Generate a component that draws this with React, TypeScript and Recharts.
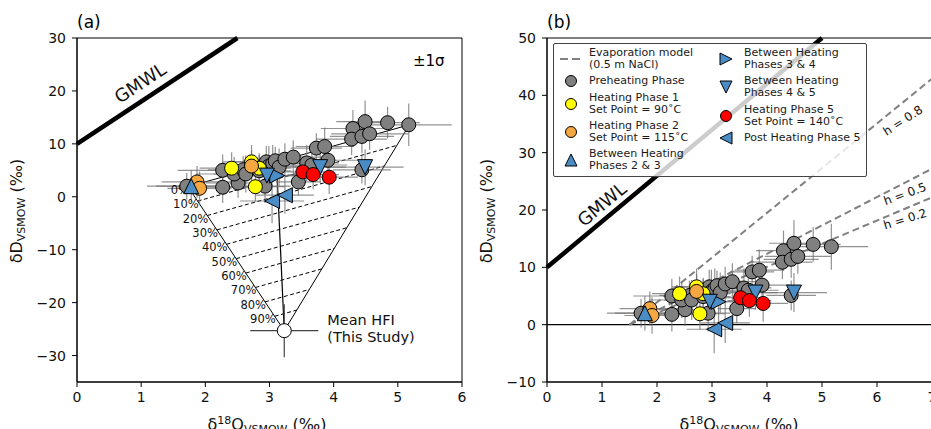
import React from "react";
import {
  ErrorBar,
  ReferenceArea,
  ReferenceLine,
  Scatter,
  ScatterChart,
  XAxis,
  YAxis,
} from "recharts";

// [d18O, dD, ±d18O, ±dD]
type Row = [number, number, number, number];

const preheating: Row[] = [
  [1.71, 2.0, 0.62, 2.5],
  [2.27, 1.8, 0.45, 3.0],
  [2.51, 2.6, 0.5, 2.8],
  [2.27, 5.0, 0.7, 3.0],
  [2.45, 4.3, 0.6, 3.2],
  [2.59, 5.1, 0.55, 2.6],
  [2.63, 4.3, 0.5, 3.5],
  [2.84, 4.9, 0.5, 3.0],
  [2.93, 2.0, 0.4, 3.2],
  [2.95, 6.6, 0.5, 3.0],
  [2.99, 5.8, 0.6, 3.8],
  [3.05, 6.3, 0.45, 3.5],
  [3.09, 6.8, 0.5, 2.6],
  [3.15, 5.6, 0.55, 3.5],
  [3.24, 7.1, 0.4, 3.0],
  [3.37, 7.5, 0.45, 3.2],
  [3.45, 2.8, 0.35, 2.5],
  [3.58, 6.4, 0.5, 3.4],
  [3.66, 6.0, 0.55, 3.0],
  [3.73, 9.2, 0.4, 2.8],
  [3.86, 9.5, 0.45, 3.6],
  [3.91, 6.9, 0.5, 3.2],
  [4.44, 5.1, 0.45, 2.6],
  [4.3, 12.9, 0.5, 3.5],
  [4.28, 10.9, 0.55, 3.0],
  [4.49, 14.2, 0.45, 4.0],
  [4.44, 11.4, 0.5, 3.2],
  [4.56, 11.9, 0.6, 3.0],
  [4.84, 14.0, 0.5, 3.0],
  [5.17, 13.6, 0.67, 4.0],
];
const heating1: Row[] = [
  [2.41, 5.4, 0.5, 3.0],
  [2.72, 6.6, 0.45, 3.2],
  [2.84, 5.4, 0.5, 2.8],
  [2.78, 1.9, 0.45, 2.8],
];
const heating2: Row[] = [
  [1.87, 2.8, 0.55, 3.0],
  [1.91, 1.6, 0.5, 3.2],
  [2.72, 5.8, 0.5, 3.0],
];
const between23: Row[] = [[1.78, 2.0, 0.55, 3.0]];
const between34: Row[] = [[3.12, 4.0, 0.45, 3.5]];
const between45: Row[] = [
  [2.96, 4.0, 0.45, 3.0],
  [3.79, 5.6, 0.4, 3.0],
  [4.49, 5.6, 0.6, 3.4],
];
const heating5: Row[] = [
  [3.52, 4.7, 0.45, 3.0],
  [3.68, 4.2, 0.4, 2.8],
  [3.93, 3.7, 0.45, 3.2],
];
const postHeating5: Row[] = [
  [3.04, -0.8, 0.5, 4.2],
  [3.24, 0.3, 0.45, 3.5],
];
const meanHFI: Row[] = [[3.23, -25.3, 0.53, 5.0]];

// mixing model end members, panel (a)
const mixLow = { x: 1.73, y: 1.9 };
const mixHigh = { x: 5.18, y: 13.6 };
const mixMid = { x: 3.12, y: 3.5 };
const hfi = { x: meanHFI[0][0], y: meanHFI[0][1] };
const mixFractions = [0, 0.1, 0.2, 0.3, 0.4, 0.5, 0.6, 0.7, 0.8, 0.9];

const gmwlA = [{ x: 0, y: 10 }, { x: 2.5, y: 30 }];
const gmwlB = [{ x: 0, y: 10 }, { x: 5, y: 50 }];

const evapH08 = [{ x: 1.5, y: 0 }, { x: 7, y: 42.9 }];
const evapH05 = [{ x: 1.5, y: 0 }, { x: 7, y: 27.2 }];
const evapH02 = [{ x: 1.5, y: 0 }, { x: 7, y: 22.2 }];

const xTicksA = [0, 1, 2, 3, 4, 5, 6];
const yTicksA = [-30, -20, -10, 0, 10, 20, 30];
const xTicksB = [0, 1, 2, 3, 4, 5, 6, 7];
const yTicksB = [-10, 0, 10, 20, 30, 40, 50];

const series = [
  { name: ["Preheating Phase"], rows: preheating, marker: "o", color: "#808080" },
  { name: ["Heating Phase 1", "Set Point = 90˚C"], rows: heating1, marker: "o", color: "#ffff00" },
  { name: ["Heating Phase 2", "Set Point = 115˚C"], rows: heating2, marker: "o", color: "#f5a742" },
  { name: ["Between Heating", "Phases 2 & 3"], rows: between23, marker: "^", color: "#4a8cc6" },
  { name: ["Between Heating", "Phases 3 & 4"], rows: between34, marker: ">", color: "#4a8cc6" },
  { name: ["Between Heating", "Phases 4 & 5"], rows: between45, marker: "v", color: "#4a8cc6" },
  { name: ["Heating Phase 5", "Set Point = 140˚C"], rows: heating5, marker: "o", color: "#ff0000" },
  { name: ["Post Heating Phase 5"], rows: postHeating5, marker: "<", color: "#4a8cc6" },
];

const toPoints = (rows: Row[]) => rows.map(([x, y, ex, ey]) => ({ x, y, ex, ey }));
const lerp = (a: { x: number; y: number }, b: { x: number; y: number }, f: number) => ({
  x: a.x + f * (b.x - a.x),
  y: a.y + f * (b.y - a.y),
});

const mixRows = mixFractions.map((f) => ({
  f,
  left: lerp(mixLow, hfi, f),
  right: lerp(mixHigh, hfi, f),
}));

function markerPath(kind: string, cx: number, cy: number, s: number, fill: string) {
  if (kind === "o") return <circle cx={cx} cy={cy} r={s} fill={fill} stroke="#000" strokeWidth={1} />;
  let pts = "";
  if (kind === "^") pts = `${cx},${cy - s} ${cx - s},${cy + s} ${cx + s},${cy + s}`;
  if (kind === "v") pts = `${cx},${cy + s} ${cx - s},${cy - s} ${cx + s},${cy - s}`;
  if (kind === ">") pts = `${cx + s},${cy} ${cx - s},${cy - s} ${cx - s},${cy + s}`;
  if (kind === "<") pts = `${cx - s},${cy} ${cx + s},${cy - s} ${cx + s},${cy + s}`;
  return <polygon points={pts} fill={fill} stroke="#000" strokeWidth={1} />;
}

const markerShape = (kind: string, fill: string) => (p: any) => {
  if (p.cx == null || p.cy == null) return <g />;
  return markerPath(kind, p.cx, p.cy, kind === "o" ? 7 : 7.5, fill);
};

const blank = () => <g />;

type TextOpts = { size: number; anchor?: "start" | "middle" | "end"; dx?: number; dy?: number; rotate?: number; central?: boolean };
const textShape = (o: TextOpts) => (p: any) => {
  if (p.cx == null || p.cy == null) return <g />;
  const x = p.cx + (o.dx ?? 0);
  const y = p.cy + (o.dy ?? 0);
  const lines: string[] = Array.isArray(p.payload.label) ? p.payload.label : [p.payload.label];
  return (
    <text
      x={x}
      y={y}
      fontSize={o.size}
      textAnchor={o.anchor ?? "start"}
      dominantBaseline={o.central ? "central" : undefined}
      transform={o.rotate ? `rotate(${o.rotate} ${x} ${y})` : undefined}
      fill="#111"
    >
      {lines.map((l, i) => (
        <tspan key={i} x={x} dy={i === 0 ? 0 : 17}>
          {l}
        </tspan>
      ))}
    </text>
  );
};

const minus = (v: number) => String(v).replace("-", "\u2212");
const tickStyle = { fill: "#111", fontSize: 14 };

function dataLayers() {
  const all = series.flatMap((s) => s.rows);
  return [
    <Scatter key="err" data={toPoints(all)} shape={blank} isAnimationActive={false}>
      <ErrorBar dataKey="ex" direction="x" width={0} stroke="#6e6e6e" strokeOpacity={0.75} strokeWidth={1.2} />
      <ErrorBar dataKey="ey" direction="y" width={0} stroke="#6e6e6e" strokeOpacity={0.75} strokeWidth={1.2} />
    </Scatter>,
    ...series.map((s, i) => (
      <Scatter key={"s" + i} data={toPoints(s.rows)} shape={markerShape(s.marker, s.color)} isAnimationActive={false} />
    )),
  ];
}

function axes(xTicks: number[], yTicks: number[]) {
  return [
    <XAxis
      key="x"
      type="number"
      dataKey="x"
      domain={[xTicks[0], xTicks[xTicks.length - 1]]}
      ticks={xTicks}
      allowDataOverflow
      height={30}
      tickSize={5}
      tickMargin={5}
      stroke="#000"
      tick={tickStyle}
    />,
    <YAxis
      key="y"
      type="number"
      dataKey="y"
      domain={[yTicks[0] === -30 ? -35 : yTicks[0], yTicks[yTicks.length - 1]]}
      ticks={yTicks}
      allowDataOverflow
      width={50}
      tickSize={5}
      tickMargin={6}
      stroke="#000"
      tick={tickStyle}
      tickFormatter={minus}
    />,
  ];
}

const margin = { top: 38, right: 8, bottom: 17, left: 27 };

function PanelA() {
  return (
    <ScatterChart width={470} height={429} margin={margin}>
      {axes(xTicksA, yTicksA)}
      <ReferenceLine segment={gmwlA} stroke="#000" strokeWidth={4.5} />
      <ReferenceLine segment={[mixLow, mixHigh]} stroke="#000" strokeWidth={1} />
      <ReferenceLine segment={[mixLow, hfi]} stroke="#000" strokeWidth={1} />
      <ReferenceLine segment={[mixHigh, hfi]} stroke="#000" strokeWidth={1} />
      <ReferenceLine segment={[mixMid, hfi]} stroke="#000" strokeWidth={1.2} />
      {mixRows
        .filter((r) => r.f > 0)
        .map((r) => (
          <ReferenceLine key={r.f} segment={[r.left, r.right]} stroke="#000" strokeWidth={1} strokeDasharray="4 2.5" />
        ))}
      <Scatter
        data={mixRows.map((r) => ({ x: r.left.x, y: r.left.y, label: `${Math.round(r.f * 100)}%` }))}
        shape={textShape({ size: 11.5, anchor: "end", dx: 1, dy: 7 })}
        isAnimationActive={false}
      />
      {dataLayers()}
      <Scatter data={toPoints(meanHFI)} shape={markerShape("o", "#fff")} isAnimationActive={false}>
        <ErrorBar dataKey="ex" direction="x" width={0} stroke="#444" strokeWidth={1.2} />
        <ErrorBar dataKey="ey" direction="y" width={0} stroke="#444" strokeWidth={1.2} />
      </Scatter>
      <Scatter
        data={[{ x: hfi.x, y: hfi.y, label: ["Mean HFI", "(This Study)"] }]}
        shape={textShape({ size: 14.5, dx: 43, dy: -6 })}
        isAnimationActive={false}
      />
      <Scatter
        data={[{ x: 0.98, y: 21.6, label: "GMWL" }]}
        shape={textShape({ size: 18, anchor: "middle", rotate: -33.4, central: true })}
        isAnimationActive={false}
      />
      <ReferenceArea x1={0} x2={6} y1={-35} y2={30} fill="none" stroke="#000" strokeWidth={1} />
    </ScatterChart>
  );
}

function PanelB() {
  return (
    <ScatterChart width={470} height={429} margin={margin}>
      {axes(xTicksB, yTicksB)}
      <ReferenceLine y={0} stroke="#000" strokeWidth={1.2} />
      <ReferenceLine segment={gmwlB} stroke="#000" strokeWidth={4.5} />
      {[evapH08, evapH05, evapH02].map((seg, i) => (
        <ReferenceLine key={i} segment={seg} stroke="#808080" strokeWidth={2} strokeDasharray="7 4" />
      ))}
      {dataLayers()}
      <Scatter
        data={[{ x: 0.99, y: 21.1, label: "GMWL" }]}
        shape={textShape({ size: 18, anchor: "middle", rotate: -39.8, central: true })}
        isAnimationActive={false}
      />
      <Scatter
        data={[{ x: 6.47, y: 35.6, label: "h = 0.8" }]}
        shape={textShape({ size: 12, anchor: "middle", rotate: -33, central: true })}
        isAnimationActive={false}
      />
      <Scatter
        data={[{ x: 6.51, y: 22.8, label: "h = 0.5" }]}
        shape={textShape({ size: 12, anchor: "middle", rotate: -20, central: true })}
        isAnimationActive={false}
      />
      <Scatter
        data={[{ x: 6.51, y: 18.4, label: "h = 0.2" }]}
        shape={textShape({ size: 12, anchor: "middle", rotate: -17, central: true })}
        isAnimationActive={false}
      />
      <ReferenceArea x1={0} x2={7} y1={-10} y2={50} fill="none" stroke="#000" strokeWidth={1} />
    </ScatterChart>
  );
}

const sub = { fontSize: 11, verticalAlign: "-3px" } as const;
const sup = { fontSize: 11, verticalAlign: "6px" } as const;

function XLabel({ cx }: { cx: number }) {
  return (
    <div style={{ position: "absolute", left: cx, top: 413, transform: "translateX(-50%)", fontSize: 16, lineHeight: "16px", whiteSpace: "nowrap", color: "#111" }}>
      δ<span style={sup}>18</span>O<span style={sub}>VSMOW</span> (‰)
    </div>
  );
}

function YLabel({ cx }: { cx: number }) {
  return (
    <div style={{ position: "absolute", left: cx, top: 211, transform: "translate(-50%, -50%) rotate(-90deg)", fontSize: 16, lineHeight: "16px", whiteSpace: "nowrap", color: "#111" }}>
      δD<span style={sub}>VSMOW</span> (‰)
    </div>
  );
}

function LegendMarker({ kind, color }: { kind: string; color: string }) {
  return (
    <svg width={22} height={16} style={{ display: "block" }}>
      {kind === "dash" ? (
        <line x1={0} y1={8} x2={22} y2={8} stroke="#808080" strokeWidth={2} strokeDasharray="8 4" />
      ) : (
        markerPath(kind, 11, 8, kind === "o" ? 5.5 : 6, color)
      )}
    </svg>
  );
}

const evapEntry = { name: ["Evaporation model", "(0.5 m NaCl)"], marker: "dash", color: "#808080" };
const legendCols = [
  [evapEntry, series[0], series[1], series[2], series[3]],
  [series[4], series[5], series[6], series[7]],
];

function Legend() {
  return (
    <div
      style={{
        position: "absolute",
        left: 553,
        top: 43,
        width: 312,
        height: 132,
        border: "1px solid #444",
        borderRadius: 2,
        background: "rgba(255,255,255,0.8)",
        fontSize: 11,
        color: "#1a1a1a",
      }}
    >
      {legendCols.map((col, ci) => (
        <div key={ci} style={{ position: "absolute", left: ci === 0 ? 6 : 161, top: 3, display: "flex", flexDirection: "column", gap: 4.3 }}>
          {col.map((e, i) => (
            <div key={i} style={{ display: "flex", alignItems: "center", height: e.name.length * 12 }}>
              <LegendMarker kind={e.marker} color={e.color} />
              <div style={{ marginLeft: 7, lineHeight: "12px", whiteSpace: "nowrap" }}>
                {e.name.map((l, j) => (
                  <div key={j}>{l}</div>
                ))}
              </div>
            </div>
          ))}
        </div>
      ))}
    </div>
  );
}

export default function App() {
  return (
    <div
      style={{
        position: "absolute",
        left: 0,
        top: 0,
        width: 931,
        height: 429,
        overflow: "hidden",
        background: "#fff",
        fontFamily: "'DejaVu Sans', sans-serif",
      }}
    >
      <div style={{ position: "absolute", left: 0, top: 0 }}>
        <PanelA />
      </div>
      <div style={{ position: "absolute", left: 470, top: 0 }}>
        <PanelB />
      </div>
      <div style={{ position: "absolute", left: 77, top: 14, fontSize: 17, lineHeight: "17px" }}>(a)</div>
      <div style={{ position: "absolute", left: 547, top: 14, fontSize: 17, lineHeight: "17px" }}>(b)</div>
      <div style={{ position: "absolute", left: 413, top: 54, fontSize: 15, lineHeight: "15px" }}>±1σ</div>
      <YLabel cx={19} />
      <YLabel cx={489} />
      <XLabel cx={267} />
      <XLabel cx={739} />
      <Legend />
    </div>
  );
}
